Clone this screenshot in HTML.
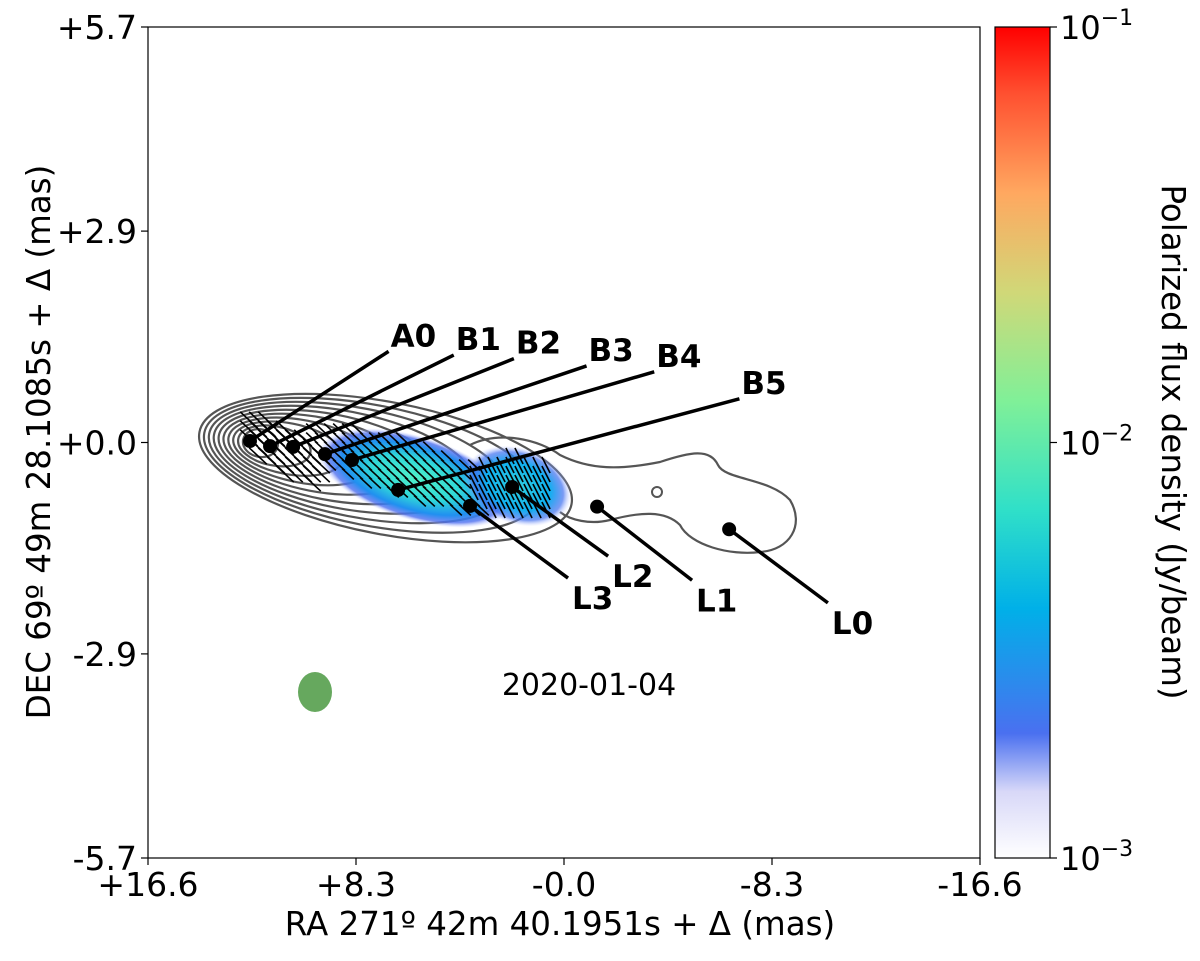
<!DOCTYPE html>
<html><head><meta charset="utf-8">
<style>
body{margin:0;background:#fff;}
svg{display:block;font-family:"DejaVu Sans","Liberation Sans",sans-serif;}
</style></head>
<body>
<svg id="chart" width="1200" height="961" viewBox="0 0 1200 961" xmlns="http://www.w3.org/2000/svg">
<defs>
<linearGradient id="cbar" x1="0" y1="1" x2="0" y2="0">
<stop offset="0" stop-color="#ffffff"/>
<stop offset="0.08" stop-color="#d8d8f8"/>
<stop offset="0.15" stop-color="#4a70f0"/>
<stop offset="0.3" stop-color="#00b0e8"/>
<stop offset="0.42" stop-color="#30e0c8"/>
<stop offset="0.55" stop-color="#80f098"/>
<stop offset="0.68" stop-color="#d0d878"/>
<stop offset="0.8" stop-color="#ffa860"/>
<stop offset="0.92" stop-color="#ff5030"/>
<stop offset="1" stop-color="#ff0000"/>
</linearGradient>
<radialGradient id="blob1">
<stop offset="0" stop-color="#50f0c8"/>
<stop offset="0.45" stop-color="#30d8d8"/>
<stop offset="0.75" stop-color="#2090f0"/>
<stop offset="0.9" stop-color="#5070f0" stop-opacity="0.8"/>
<stop offset="1" stop-color="#c0c8ff" stop-opacity="0"/>
</radialGradient>
<radialGradient id="blob2">
<stop offset="0" stop-color="#30d0e0"/>
<stop offset="0.6" stop-color="#10b0f0"/>
<stop offset="0.85" stop-color="#4070f0" stop-opacity="0.7"/>
<stop offset="1" stop-color="#c0c8ff" stop-opacity="0"/>
</radialGradient>
<clipPath id="plotclip"><rect x="148" y="27" width="832" height="831"/></clipPath>
</defs>
<g id="plot" clip-path="url(#plotclip)"></g>
<rect x="148" y="27" width="832" height="831" fill="none" stroke="#000" stroke-width="1.2"/>
<g id="axes"></g>
<rect x="995" y="27" width="55" height="831" fill="url(#cbar)" stroke="#000" stroke-width="1.2"/>
<g id="cbaxis"></g>
<text x="560" y="935" font-size="32.5" text-anchor="middle">RA 271º 42m 40.1951s + Δ (mas)</text>
<text transform="translate(50,442) rotate(-90)" font-size="32.5" text-anchor="middle">DEC 69º 49m 28.1085s + Δ (mas)</text>
<text transform="translate(1162,442) rotate(90)" font-size="32.5" text-anchor="middle">Polarized flux density (Jy/beam)</text>
<text x="589" y="695" font-size="30" text-anchor="middle">2020-01-04</text>
<ellipse cx="315" cy="692" rx="17" ry="20" fill="#66a85e"/>
</svg>
<script>
const xTicks=[16.6,8.3,0.0,-8.3,-16.6];
const xTickLabels=["+16.6","+8.3","-0.0","-8.3","-16.6"];
const yTicks=[5.7,2.9,0.0,-2.9,-5.7];
const yTickLabels=["+5.7","+2.9","+0.0","-2.9","-5.7"];
const compNames=["A0","B1","B2","B3","B4","B5","L3","L2","L1","L0"];
const compX=[12.53,11.73,10.81,9.54,8.46,6.62,3.75,2.07,-1.32,-6.59];
const compY=[0.02,-0.05,-0.06,-0.16,-0.24,-0.65,-0.87,-0.61,-0.88,-1.19];
const labelX=[7.0,4.4,2.0,-0.9,-3.6,-7.0,-0.16,-1.76,-5.11,-10.53];
const labelY=[1.25,1.2,1.15,1.05,0.97,0.6,-1.86,-1.56,-1.89,-2.2];
const cbTicks=[-1,-2,-3];

const NS="http://www.w3.org/2000/svg";
const X=v=>148+(16.6-v)/33.2*832;
const Y=v=>27+(5.7-v)/11.4*831;
function mk(tag,attrs,parent){const e=document.createElementNS(NS,tag);for(const k in attrs)e.setAttribute(k,attrs[k]);parent.appendChild(e);return e;}
const plot=document.getElementById('plot'),axes=document.getElementById('axes'),cba=document.getElementById('cbaxis');

// contours
for(let i=0;i<10;i++){
  const L=196+i*5.2,R=575-i*33,ry=66-i*5.8;
  const cx=(L+R)/2,rx=(R-L)/2,cy=441+0.2*(cx-250);
  const e=mk('ellipse',{cx:cx,cy:cy,rx:rx,ry:ry,fill:'none',stroke:'#555',"stroke-width":2.2,transform:`rotate(11 ${cx} ${cy})`},plot);
  
  
}
const oc=mk('path',{d:"M470,445 C500,430 540,440 560,455 C590,470 620,470 660,462 C690,452 710,448 718,465 C725,480 770,478 790,500 C805,525 790,550 760,552 C730,556 690,545 680,525 C665,510 640,512 610,520 C590,525 570,520 560,512",fill:'none',stroke:'#555',"stroke-width":2.2},plot);


const sc=mk('circle',{cx:657,cy:492,r:5,fill:'none',stroke:'#555',"stroke-width":2},plot);



// polarized blobs
const b1=mk('ellipse',{cx:415,cy:478,rx:100,ry:42,fill:'url(#blob1)',transform:'rotate(17 415 478)'},plot);


const b2=mk('ellipse',{cx:518,cy:486,rx:55,ry:38,fill:'url(#blob2)',transform:'rotate(20 518 486)'},plot);



// EVPA ticks
const evg=mk('g',{stroke:'#000',"stroke-width":1.6},plot);


for(let gx=240;gx<=550;gx+=9){for(let gy=420;gy<=520;gy+=9){
  const inMain=((gx-410)/110)**2+((gy-470-(gx-410)*0.3)/30)**2<1;
  const inSec=((gx-515)/45)**2+((gy-487)/32)**2<1;
  const inCore=gx<330&&((gx-285)/45)**2+((gy-450-(gx-285)*0.5)/25)**2<1;
  if(!(inMain||inSec||inCore))continue;
  const a=inSec?1.1:0.75,l=inSec?9:(inCore?12:8);
  mk('line',{x1:gx-l*Math.cos(a),y1:gy-l*Math.sin(a),x2:gx+l*Math.cos(a),y2:gy+l*Math.sin(a)},evg);
}}

// components
for(let i=0;i<compNames.length;i++){
  const px=X(compX[i]),py=Y(compY[i]),lx=X(labelX[i]),ly=Y(labelY[i]);
  const ln=mk('line',{x1:px,y1:py,x2:lx,y2:ly,stroke:'#000',"stroke-width":3.5},plot);
  
  
  const c=mk('circle',{cx:px,cy:py,r:7,fill:'#000'},plot);
  
  
  const up=labelY[i]>compY[i];
  const t=mk('text',{x:up?lx+2:lx+4,y:up?ly-5:ly+31,"font-size":31,"font-weight":"bold"},plot);
  t.textContent=compNames[i];
  
  
}

// axes ticks
xTicks.forEach((v,i)=>{
  const x=X(v);
  const tk=mk('line',{x1:x,y1:858,x2:x,y2:865,stroke:'#000',"stroke-width":1.2},axes);
  
  
  const t=mk('text',{x:x,y:896,"font-size":33,"text-anchor":"middle"},axes);
  t.textContent=xTickLabels[i];
  
  
});
yTicks.forEach((v,i)=>{
  const y=Y(v);
  const tk=mk('line',{x1:141,y1:y,x2:148,y2:y,stroke:'#000',"stroke-width":1.2},axes);
  
  
  const t=mk('text',{x:137,y:y+12,"font-size":33,"text-anchor":"end"},axes);
  t.textContent=yTickLabels[i];
  
  
});
// colorbar ticks
const CB=v=>27+(-1-v)/2*831;
cbTicks.forEach(v=>{
  const y=CB(v);
  const tk=mk('line',{x1:1050,y1:y,x2:1057,y2:y,stroke:'#000',"stroke-width":1.2},cba);
  
  
  const t=mk('text',{x:1060,y:y+12,"font-size":32},cba);
  
  
  t.textContent='10';
  const s=mk('tspan',{dy:-14,"font-size":22},t);
  s.textContent=String(v).replace('-','−');
});
</script>
</body></html>
